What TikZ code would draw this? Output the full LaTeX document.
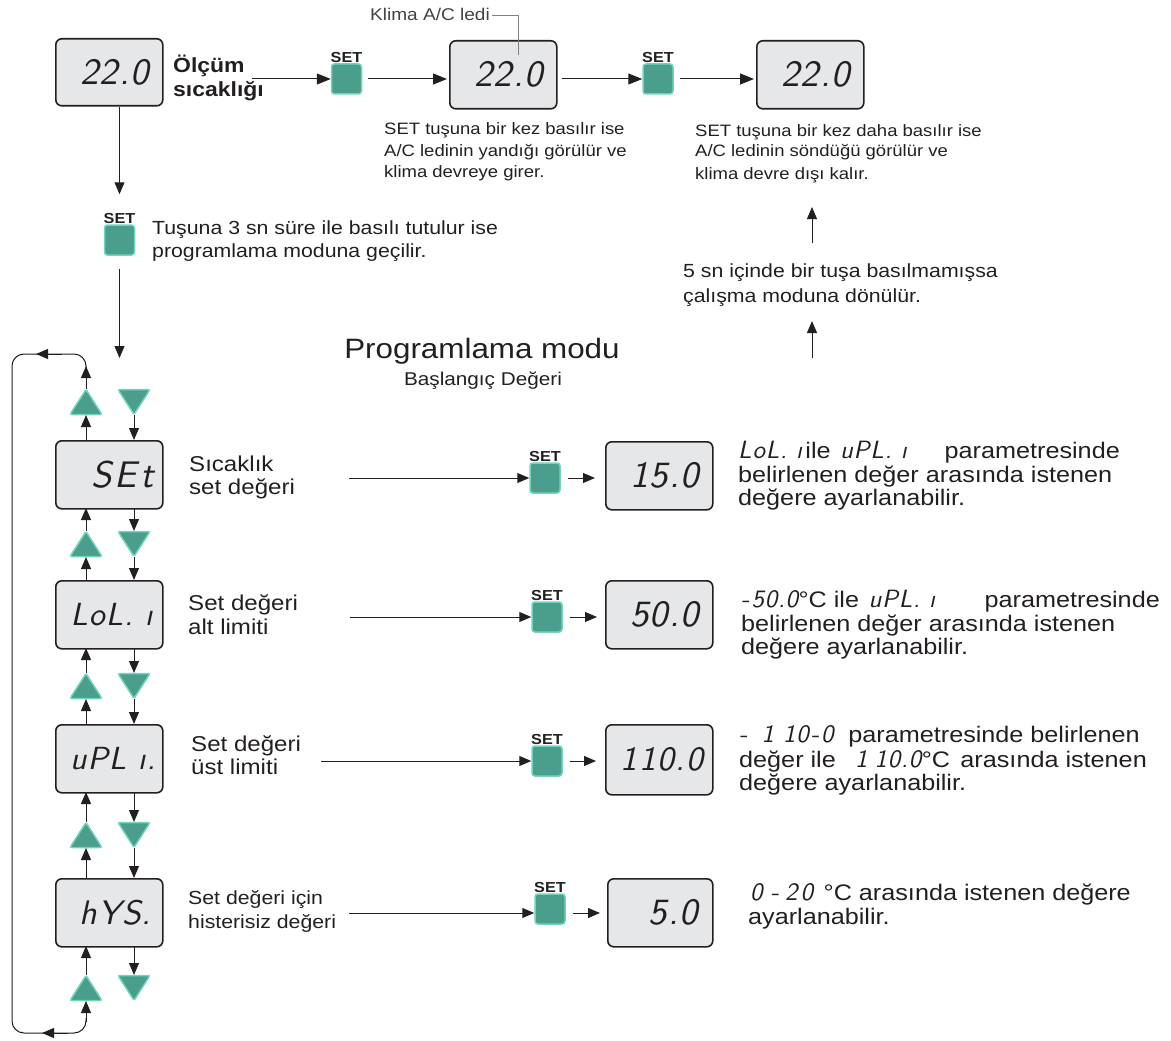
\documentclass[tikz,border=0pt]{standalone}
\usepackage{fontspec}
\setmainfont{Liberation Sans}[FakeStretch=1.12]
\newfontfamily\lcdfam{lmsans10-oblique.otf}[LetterSpace=3]
\usetikzlibrary{arrows.meta}
\definecolor{dispfill}{HTML}{E6E7E8}
\definecolor{dispdraw}{HTML}{231F20}
\definecolor{btnfill}{HTML}{4A9E8C}
\definecolor{btndraw}{HTML}{72D4BC}
\definecolor{ink}{HTML}{231F20}
\newcommand\lcd{\lcdfam}
\newcommand\fsz[1]{\fontsize{#1}{#1}\selectfont}
\begin{document}
\begin{tikzpicture}[x=1pt,y=-1pt,
  disp/.style={draw=dispdraw, fill=dispfill, line width=1.6pt, rounded corners=6pt,
    minimum width=107pt, minimum height=68pt, inner sep=0pt, anchor=north west},
  lcdtxt/.style={font={\fsz{37}\lcd}, anchor=east, inner sep=0pt, text=ink},
  btn/.style={draw=btndraw, fill=btnfill, line width=1.5pt, rounded corners=3pt,
    minimum size=30pt, inner sep=0pt, label distance=3pt, label={[setlbl]above:SET}},
  setlbl/.style={font={\fsz{14.5}\bfseries}, inner sep=0pt, text=ink},
  tri/.style={draw=btndraw, fill=btnfill, line width=1.5pt, rounded corners=2pt},
  conn/.style={line width=1pt, draw=ink},
  arr/.style={conn, -{Triangle[length=12pt,width=10pt]}},
  bigarr/.style={conn, -{Triangle[length=14pt,width=11pt]}},
  txt/.style={inner sep=0pt, anchor=base west, text=ink},
  tsmall/.style={txt, font=\fsz{16.5}},
  tmid/.style={txt, font=\fsz{19}},
  tlab/.style={txt, font=\fsz{21.5}},
  tright/.style={txt, font=\fsz{22.5}},
  ilcd/.style={txt, font={\fsz{25}\lcd}}
]
\useasboundingbox (0,0) rectangle (1171,1041);

% ---------- top row ----------
\node[disp, minimum height=67pt] (D0) at (55,38) {};
\node[lcdtxt] (D0t) at ([xshift=-14pt]D0.east) {22.0};
\node[txt, font={\fsz{20.5}\bfseries}] (olc1) at (173,73) {Ölçüm};
\node[txt, font={\fsz{20.5}\bfseries}] (olc2) at (173,96) {sıcaklığı};
\coordinate (olcout) at (252,79);

\node[btn] (B1) at (346.5,79) {};
\node[disp] (D1) at (449,40) {};
\node[lcdtxt] (D1t) at ([xshift=-14pt]D1.east) {22.0};
\node[btn] (B2) at (658,79) {};
\node[disp] (D2) at (756,40) {};
\node[lcdtxt] (D2t) at ([xshift=-14pt]D2.east) {22.0};

\draw[bigarr] (olcout) -- (B1.west);
\draw[bigarr, shorten <=6pt, shorten >=2pt] (B1.east) -- (B1.east -| D1.west);
\draw[bigarr, shorten <=4pt] (D1.east |- B2.west) -- (B2.west);
\draw[bigarr, shorten <=6pt, shorten >=2pt] (B2.east) -- (B2.east -| D2.west);

% Klima A/C ledi
\node[txt, anchor=base east, font=\fsz{17}, text=ink!85] (klima) at (490,21) {Klima A/C ledi};
\coordinate (ledpt) at (518,55);
\draw[line width=1pt, draw=black!50] (klima.east |- 0,16) ++(2,0) -- (518,16) -- (ledpt);

\node[tsmall] (u1a) at (384,135) {SET tuşuna bir kez basılır ise};
\node[tsmall] (u1b) at (384,156) {A/C ledinin yandığı görülür ve};
\node[tsmall] (u1c) at (384,177) {klima devreye girer.};
\node[tsmall] (u2a) at (695,136) {SET tuşuna bir kez daha basılır ise};
\node[tsmall] (u2b) at (695,157) {A/C ledinin söndüğü görülür ve};
\node[tsmall] (u2c) at (695,179) {klima devre dışı kalır.};

% return to run mode
\coordinate (ret1a) at (812,243); \coordinate (ret1b) at (812,207);
\coordinate (ret2a) at (812,358); \coordinate (ret2b) at (812,321);
\draw[arr] (ret1a) -- (ret1b);
\draw[arr] (ret2a) -- (ret2b);
\node[tmid] (r5a) at (683,277) {5 sn içinde bir tuşa basılmamışsa};
\node[tmid] (r5b) at (683,302) {çalışma moduna dönülür.};

% ---------- enter programming ----------
\node[btn] (B3) at (119.5,240) {};
\draw[arr, shorten >=30pt] (D0.south -| B3.center) -- (B3.north);
\coordinate (progin) at (119.5,358);
\draw[arr, shorten <=13pt] (B3.south) -- (progin);
\node[tmid] (tu1) at (152,234) {Tuşuna 3 sn süre ile basılı tutulur ise};
\node[tmid] (tu2) at (152,257) {programlama moduna geçilir.};

\node[txt, anchor=base, font=\fsz{28}] (pm) at (482,358) {Programlama modu};
\node[txt, anchor=base, font=\fsz{18.5}] (bd) at (483,385) {Başlangıç Değeri};

% ---------- left column ----------
\foreach \c in {402,544,686,835,988} {
  \draw[tri] (70,\c+12.5) -- (102,\c+12.5) -- (86,\c-12.5) -- cycle;
  \draw[tri] (118,\c-12.5) -- (150,\c-12.5) -- (134,\c+12.5) -- cycle;
}
\node[disp] (P1) at (55,440) {};
\node[lcdtxt] (P1t) at ([xshift=-10pt]P1.east) {S\kern3pt E\kern3pt t};
\node[disp] (P2) at (55,580) {};
\node[lcdtxt, font={\fsz{32}\lcd}] (P2t) at ([xshift=-11pt]P2.east) {LoL. ı};
\node[disp] (P3) at (55,724) {};
\node[lcdtxt, font={\fsz{32}\lcd}] (P3t) at ([xshift=-8pt]P3.east) {uPL ı.};
\node[disp] (P4) at (55,878) {};
\node[lcdtxt, font={\fsz{34}\lcd}] (P4t) at ([xshift=-12pt]P4.east) {hYS.};

\foreach \T/\ca/\cb in {440/402/544, 580/544/686, 724/686/835, 878/835/988} {
  \draw[arr] (86,\T) -- (86,\ca+13);
  \draw[arr] (134,\ca+13) -- (134,\T);
  \draw[arr] (86,\cb-13) -- (86,\T+68);
  \draw[arr] (134,\T+68) -- (134,\cb-13);
}
\draw[arr] (86,389) -- (86,366);
\draw[conn, rounded corners=12pt] (86,368) -- (86,354) -- (12,354) -- (12,1033) -- (86,1033) -- (86,1018);
\draw[arr] (86,1022) -- (86,1001);
\draw[arr] (62,354) -- (36,354);
\draw[arr] (68,1033) -- (42,1033);

% ---------- rows ----------
% row 1
\node[tlab] (l1a) at (189,471) {Sıcaklık};
\node[tlab] (l1b) at (189,494) {set değeri};
\coordinate (s1) at (349,478);
\node[btn] (RB1) at (545,478) {};
\node[disp] (RD1) at (605,441) {};
\node[lcdtxt] (RD1t) at ([xshift=-14pt]RD1.east) {15.0};
\draw[arr] (s1) -- (RB1.west);
\draw[arr, shorten <=7pt, shorten >=10pt] (RB1.east) -- (RB1.east -| RD1.west);
\node[ilcd] (t1l1) at (738,458) {LoL. ı};
\node[tright] (t1l2) at ([xshift=3pt]t1l1.base east) {ile};
\node[ilcd] (t1l3) at ([xshift=9pt]t1l2.base east) {uPL. ı};
\node[tright, anchor=base east] (t1a) at (1120,458) {parametresinde};
\node[tright] (t1b) at (738,482) {belirlenen değer arasında istenen};
\node[tright] (t1c) at (738,505) {değere ayarlanabilir.};

% row 2
\node[tlab] (l2a) at (188,610) {Set değeri};
\node[tlab] (l2b) at (188,634) {alt limiti};
\coordinate (s2) at (350,617);
\node[btn] (RB2) at (547,617) {};
\node[disp] (RD2) at (605,580) {};
\node[lcdtxt] (RD2t) at ([xshift=-14pt]RD2.east) {50.0};
\draw[arr] (s2) -- (RB2.west);
\draw[arr, shorten <=7pt, shorten >=8pt] (RB2.east) -- (RB2.east -| RD2.west);
\node[ilcd] (t2l1) at (741,607) {-\kern2pt50.0};
\node[tright] (t2l2) at (t2l1.base east) {°C ile};
\node[ilcd] (t2l3) at ([xshift=9pt]t2l2.base east) {uPL. ı};
\node[tright, anchor=base east] (t2a) at (1160,607) {parametresinde};
\node[tright] (t2b) at (741,631) {belirlenen değer arasında istenen};
\node[tright] (t2c) at (741,654) {değere ayarlanabilir.};

% row 3
\node[tlab] (l3a) at (191,751) {Set değeri};
\node[tlab] (l3b) at (191,774) {üst limiti};
\coordinate (s3) at (321,761);
\node[btn] (RB3) at (547,761) {};
\node[disp, minimum height=70pt] (RD3) at (605,724) {};
\node[lcdtxt, font={\fsz{34}\lcd}] (RD3t) at ([xshift=-10pt]RD3.east) {1\kern2pt 10.0};
\draw[arr] (s3) -- (RB3.west);
\draw[arr, shorten <=7pt, shorten >=9pt] (RB3.east) -- (RB3.east -| RD3.west);
\node[ilcd] (t3l1) at (739,742) {-\kern14pt1\kern9pt10\kern2pt-\kern2pt0};
\node[tright, anchor=base east] (t3a) at (1140,742) {parametresinde belirlenen};
\node[tright] (t3l2) at (739,767) {değer ile};
\node[ilcd] (t3l3) at (855,767) {1\kern7pt10.0};
\node[tright] (t3l4) at (t3l3.base east) {°C};
\node[tright] (t3b) at ([xshift=10pt]t3l4.base east) {arasında istenen};
\node[tright] (t3c) at (739,790) {değere ayarlanabilir.};

% row 4
\node[tmid] (l4a) at (188,904) {Set değeri için};
\node[tmid] (l4b) at (188,928) {histerisiz değeri};
\coordinate (s4) at (349,913);
\node[btn] (RB4) at (550,909) {};
\node[disp, minimum width=105pt] (RD4) at (607,878) {};
\node[lcdtxt] (RD4t) at ([xshift=-15pt]RD4.east) {5.0};
\draw[arr] (s4) -- (s4 -| RB4.west);
\draw[arr, shorten >=7pt] (s4 -| RB4.east) ++(7,0) -- (s4 -| RD4.west);
\node[tright, anchor=base east] (t4a) at (1131,900) {°C arasında istenen değere};
\node[ilcd, anchor=base west] (t4l) at (750,900) {0\kern8pt-\kern6pt2\kern3pt0};
\node[tright] (t4b) at (748,924) {ayarlanabilir.};
\end{tikzpicture}
\end{document}
